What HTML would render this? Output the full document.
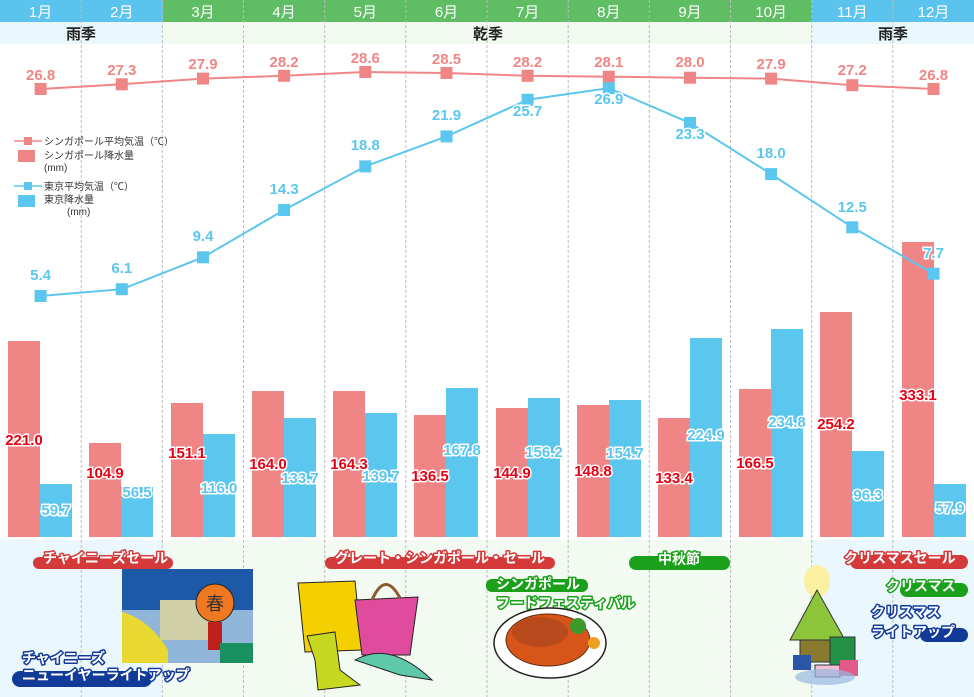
<!DOCTYPE html>
<html><head><meta charset="utf-8"><style>
html,body{margin:0;padding:0;background:#fff;}
svg{display:block;font-family:"Liberation Sans","Noto Sans CJK JP",sans-serif;}
.lbl{font-weight:bold;font-size:15px;text-anchor:middle;stroke:#fff;stroke-width:3px;paint-order:stroke;}
.ev{font-weight:bold;font-size:14px;fill:#fff;stroke-width:3px;paint-order:stroke;stroke-linejoin:round;}
</style></head><body>
<svg width="974" height="697" viewBox="0 0 974 697" xmlns="http://www.w3.org/2000/svg">
<!-- header -->
<rect x="0" y="0" width="163" height="22" fill="#5bc4ee"/>
<rect x="163" y="0" width="649" height="22" fill="#5fbd64"/>
<rect x="812" y="0" width="162" height="22" fill="#5bc4ee"/>
<rect x="0" y="22" width="163" height="22" fill="#e9f8fd"/>
<rect x="163" y="22" width="649" height="22" fill="#f2f9f0"/>
<rect x="812" y="22" width="162" height="22" fill="#e9f8fd"/>
<g fill="#fff" font-size="15" text-anchor="middle">
<text x="40.6" y="17">1月</text><text x="121.8" y="17">2月</text><text x="203" y="17">3月</text><text x="284.1" y="17">4月</text><text x="365.3" y="17">5月</text><text x="446.5" y="17">6月</text><text x="527.6" y="17">7月</text><text x="608.8" y="17">8月</text><text x="690" y="17">9月</text><text x="771.1" y="17">10月</text><text x="852.3" y="17">11月</text><text x="933.5" y="17">12月</text>
</g>
<g font-size="15" font-weight="bold" text-anchor="middle" fill="#222">
<text x="81" y="39">雨季</text><text x="488" y="39">乾季</text><text x="893" y="39">雨季</text>
</g>
<!-- bottom backgrounds -->
<rect x="0" y="540" width="163" height="157" fill="#eaf8fd"/>
<rect x="163" y="540" width="649" height="157" fill="#f3faf2"/>
<rect x="812" y="540" width="162" height="157" fill="#eaf8fd"/>
<!-- grid -->
<g stroke="#bbb" stroke-width="1" stroke-dasharray="3,2">
<line x1="81.2" y1="0" x2="81.2" y2="697"/><line x1="162.3" y1="0" x2="162.3" y2="697"/><line x1="243.5" y1="0" x2="243.5" y2="697"/><line x1="324.7" y1="0" x2="324.7" y2="697"/><line x1="405.8" y1="0" x2="405.8" y2="697"/><line x1="487" y1="0" x2="487" y2="697"/><line x1="568.2" y1="0" x2="568.2" y2="697"/><line x1="649.3" y1="0" x2="649.3" y2="697"/><line x1="730.5" y1="0" x2="730.5" y2="697"/><line x1="811.7" y1="0" x2="811.7" y2="697"/><line x1="892.8" y1="0" x2="892.8" y2="697"/>
</g>
<!-- bars -->
<g fill="#f08585">
<rect x="8" y="341" width="32" height="196"/><rect x="89" y="443" width="32" height="94"/><rect x="171" y="403" width="32" height="134"/><rect x="252" y="391" width="32" height="146"/><rect x="333" y="391" width="32" height="146"/><rect x="414" y="415" width="32" height="122"/><rect x="496" y="408" width="32" height="129"/><rect x="577" y="405" width="32" height="132"/><rect x="658" y="418" width="32" height="119"/><rect x="739" y="389" width="32" height="148"/><rect x="820" y="312" width="32" height="225"/><rect x="902" y="242" width="32" height="295"/>
</g>
<g fill="#5bc6ee">
<rect x="40" y="484" width="32" height="53"/><rect x="121" y="487" width="32" height="50"/><rect x="203" y="434" width="32" height="103"/><rect x="284" y="418" width="32" height="119"/><rect x="365" y="413" width="32" height="124"/><rect x="446" y="388" width="32" height="149"/><rect x="528" y="398" width="32" height="139"/><rect x="609" y="400" width="32" height="137"/><rect x="690" y="338" width="32" height="199"/><rect x="771" y="329" width="32" height="208"/><rect x="852" y="451" width="32" height="86"/><rect x="934" y="484" width="32" height="53"/>
</g>
<g class="lbl" fill="#e60012" font-size="14">
<text x="24" y="445">221.0</text><text x="105" y="478">104.9</text><text x="187" y="458">151.1</text><text x="268" y="469">164.0</text><text x="349" y="469">164.3</text><text x="430" y="481">136.5</text><text x="512" y="478">144.9</text><text x="593" y="476">148.8</text><text x="674" y="483">133.4</text><text x="755" y="468">166.5</text><text x="836" y="429">254.2</text><text x="918" y="400">333.1</text>
</g>
<g class="lbl" fill="#5bc6ee" font-size="14">
<text x="56" y="515">59.7</text><text x="137" y="497">56.5</text><text x="219" y="493">116.0</text><text x="300" y="483">133.7</text><text x="381" y="481">139.7</text><text x="462" y="455">167.8</text><text x="544" y="457">156.2</text><text x="625" y="458">154.7</text><text x="706" y="440">224.9</text><text x="787" y="427">234.8</text><text x="868" y="500">96.3</text><text x="950" y="513">57.9</text>
</g>
<!-- lines -->
<polyline fill="none" stroke="#f08585" stroke-width="2" points="40.6,89 121.8,84.3 203,78.6 284.1,75.8 365.3,72 446.5,73 527.6,75.8 608.8,76.7 690,77.7 771.1,78.6 852.3,85.2 933.5,89"/>
<g fill="#f08585">
<rect x="34.6" y="83" width="12" height="12"/><rect x="115.8" y="78.3" width="12" height="12"/><rect x="197" y="72.6" width="12" height="12"/><rect x="278.1" y="69.8" width="12" height="12"/><rect x="359.3" y="66" width="12" height="12"/><rect x="440.5" y="67" width="12" height="12"/><rect x="521.6" y="69.8" width="12" height="12"/><rect x="602.8" y="70.7" width="12" height="12"/><rect x="684" y="71.7" width="12" height="12"/><rect x="765.1" y="72.6" width="12" height="12"/><rect x="846.3" y="79.2" width="12" height="12"/><rect x="927.5" y="83" width="12" height="12"/>
</g>
<g class="lbl" fill="#f08585">
<text x="40.6" y="80">26.8</text><text x="121.8" y="75">27.3</text><text x="203" y="69">27.9</text><text x="284.1" y="67">28.2</text><text x="365.3" y="63">28.6</text><text x="446.5" y="64">28.5</text><text x="527.6" y="67">28.2</text><text x="608.8" y="67">28.1</text><text x="690" y="67">28.0</text><text x="771.1" y="69">27.9</text><text x="852.3" y="75">27.2</text><text x="933.5" y="80">26.8</text>
</g>
<polyline fill="none" stroke="#5bc6ee" stroke-width="2" points="40.6,296 121.8,289.2 203,257.3 284.1,210 365.3,166.4 446.5,136.4 527.6,99.7 608.8,88.1 690,122.9 771.1,174.1 852.3,227.3 933.5,273.7"/>
<g fill="#5bc6ee">
<rect x="34.6" y="290" width="12" height="12"/><rect x="115.8" y="283.2" width="12" height="12"/><rect x="197" y="251.3" width="12" height="12"/><rect x="278.1" y="204" width="12" height="12"/><rect x="359.3" y="160.4" width="12" height="12"/><rect x="440.5" y="130.4" width="12" height="12"/><rect x="521.6" y="93.7" width="12" height="12"/><rect x="602.8" y="82.1" width="12" height="12"/><rect x="684" y="116.9" width="12" height="12"/><rect x="765.1" y="168.1" width="12" height="12"/><rect x="846.3" y="221.3" width="12" height="12"/><rect x="927.5" y="267.7" width="12" height="12"/>
</g>
<g class="lbl" fill="#5bc6ee">
<text x="40.6" y="280">5.4</text><text x="121.8" y="273">6.1</text><text x="203" y="241">9.4</text><text x="284.1" y="194">14.3</text><text x="365.3" y="150">18.8</text><text x="446.5" y="120">21.9</text><text x="527.6" y="116">25.7</text><text x="608.8" y="104">26.9</text><text x="690" y="139">23.3</text><text x="771.1" y="158">18.0</text><text x="852.3" y="212">12.5</text><text x="933.5" y="258">7.7</text>
</g>
<!-- legend -->
<g font-size="10" fill="#333">
<line x1="14" y1="141" x2="42" y2="141" stroke="#f08585" stroke-width="1.5"/><rect x="24" y="137" width="8" height="8" fill="#f08585"/>
<text x="44" y="145">シンガポール平均気温（℃）</text>
<rect x="18" y="150" width="17" height="12" fill="#f08585"/>
<text x="44" y="159">シンガポール降水量</text><text x="44" y="171">(mm)</text>
<line x1="14" y1="186" x2="42" y2="186" stroke="#5bc6ee" stroke-width="1.5"/><rect x="24" y="182" width="8" height="8" fill="#5bc6ee"/>
<text x="44" y="190">東京平均気温（℃）</text>
<rect x="18" y="195" width="17" height="12" fill="#5bc6ee"/>
<text x="44" y="203">東京降水量</text><text x="67" y="215">(mm)</text>
</g>
<!-- events -->
<rect x="33" y="557" width="140" height="12" rx="6" fill="#d43a3a"/>
<text class="ev" x="43" y="563" stroke="#d43a3a">チャイニーズセール</text>
<rect x="325" y="557" width="230" height="12" rx="6" fill="#d43a3a"/>
<text class="ev" x="335" y="563" stroke="#d43a3a">グレート・シンガポール・セール</text>
<rect x="486" y="579" width="102" height="13" rx="6" fill="#1aa01a"/>
<text class="ev" x="496" y="589" stroke="#1aa01a">シンガポール</text>
<text class="ev" x="496" y="608" stroke="#1aa01a">フードフェスティバル</text>
<rect x="629" y="556" width="101" height="14" rx="7" fill="#1aa01a"/>
<text class="ev" x="658" y="564" stroke="#1aa01a">中秋節</text>
<rect x="850" y="555" width="118" height="14" rx="7" fill="#d43a3a"/>
<text class="ev" x="844" y="563" stroke="#d43a3a">クリスマスセール</text>
<rect x="900" y="583" width="68" height="14" rx="7" fill="#1aa01a"/>
<text class="ev" x="886" y="591" stroke="#1aa01a">クリスマス</text>
<rect x="920" y="628" width="48" height="14" rx="7" fill="#123a99"/>
<text class="ev" x="871" y="617" stroke="#123a99">クリスマス</text>
<text class="ev" x="871" y="637" stroke="#123a99">ライトアップ</text>
<rect x="12" y="671" width="140" height="16" rx="8" fill="#123a99"/>
<text class="ev" x="22" y="663" stroke="#123a99">チャイニーズ</text>
<text class="ev" x="22" y="680" stroke="#123a99">ニューイヤーライトアップ</text>
<!-- pictures (approx) -->
<rect x="122" y="569" width="131" height="94" fill="#1c5aa8"/>
<rect x="122" y="610" width="131" height="53" fill="#8fb5d8"/>
<rect x="160" y="600" width="55" height="40" fill="#cfcfa8"/>
<circle cx="215" cy="603" r="19" fill="#f07820" stroke="#222"/>
<text x="215" y="610" font-size="18" text-anchor="middle" fill="#333">春</text>
<rect x="208" y="622" width="14" height="28" fill="#c0201a"/>
<path d="M122 612 Q150 620 168 650 L168 663 L122 663Z" fill="#e8d830"/>
<rect x="220" y="643" width="33" height="20" fill="#189060"/>
<path d="M298 583 L355 581 L362 650 L305 652Z" fill="#f5d000" stroke="#222"/>
<path d="M355 600 L418 597 L410 655 L362 655Z" fill="#e14b9e" stroke="#222"/>
<path d="M372 600 Q385 570 400 598" fill="none" stroke="#8a5a30" stroke-width="3"/>
<path d="M307 636 L335 632 L340 670 L360 685 L318 690 L315 660Z" fill="#c7d820" stroke="#222"/>
<path d="M355 660 Q390 640 432 680 L400 675 Z" fill="#5fc8a8" stroke="#222"/>
<ellipse cx="550" cy="643" rx="56" ry="35" fill="#fff" stroke="#222" stroke-width="1.5"/>
<ellipse cx="548" cy="640" rx="42" ry="26" fill="#d8551a" stroke="#5a2a10"/>
<ellipse cx="540" cy="632" rx="28" ry="15" fill="#b84a1c"/>
<circle cx="578" cy="626" r="8" fill="#3a9a2a"/><circle cx="594" cy="643" r="6" fill="#f0a020"/>
<ellipse cx="817" cy="581" rx="13" ry="16" fill="#faf0a0"/>
<path d="M817 590 L790 640 L845 640Z" fill="#8cc43a" stroke="#333"/>
<rect x="800" y="640" width="30" height="22" fill="#8a7a30" stroke="#333"/>
<rect x="830" y="637" width="25" height="30" fill="#239048" stroke="#333"/>
<rect x="793" y="655" width="18" height="15" fill="#2a55a8"/>
<rect x="815" y="665" width="25" height="12" fill="#f4c0d8" stroke="#333"/>
<rect x="840" y="660" width="18" height="16" fill="#e05a8a"/>
<ellipse cx="825" cy="677" rx="30" ry="8" fill="#9ab8e0" opacity="0.7"/>
</svg>
</body></html>
